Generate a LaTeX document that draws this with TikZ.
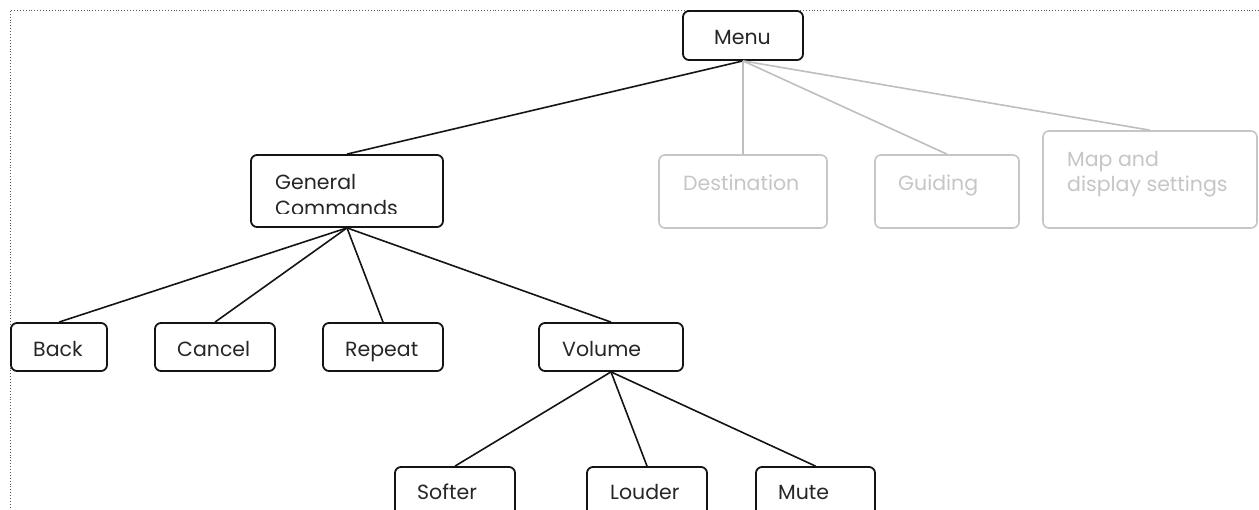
\documentclass[tikz,border=0pt]{standalone}
\usepackage{fontspec}
\setmainfont{Poppins}
\usetikzlibrary{calc}
\definecolor{inkline}{HTML}{141414}
\definecolor{inktext}{HTML}{262626}
\definecolor{faint}{HTML}{C6C6C6}
\definecolor{faintline}{HTML}{BEBEBE}
\definecolor{framedots}{HTML}{555555}
\tikzset{
  item/.style={draw=inkline, line width=1.8pt, rounded corners=6pt, inner sep=0pt, fill=white},
  faded/.style={item, draw=faint, line width=1.6pt},
  lbl/.style={anchor=base west, inner sep=0pt, font=\fontsize{20.5}{25}\selectfont, text=inktext},
  fadedlbl/.style={lbl, text=faint},
  link/.style={draw=inkline, line width=1.6pt},
  fadedlink/.style={draw=faintline, line width=1.6pt},
}
\begin{document}
\begin{tikzpicture}[x=1pt,y=-1pt]
  \useasboundingbox (0,0) rectangle (1259,510);
  \clip (0,0) rectangle (1259,510);

  % page frame (dotted, top and left)
  \draw[framedots, dotted, line width=0.9pt] (1259,10) -- (10,10) -- (10,510);

  % boxes
  \node[item,  minimum width=120pt, minimum height=49pt] (menu)   at (743,35.5)  {};
  \node[item,  minimum width=192pt, minimum height=72pt] (gen)    at (347,191)   {};
  \node[faded, minimum width=168pt, minimum height=73pt] (dest)   at (743,191.5) {};
  \node[faded, minimum width=144pt, minimum height=73pt] (guide)  at (947,191.5) {};
  \node[faded, minimum width=214pt, minimum height=97pt] (map)    at (1150,179.5){};
  \node[item,  minimum width=96pt,  minimum height=48pt] (back)   at (59,347)    {};
  \node[item,  minimum width=120pt, minimum height=48pt] (cancel) at (215,347)   {};
  \node[item,  minimum width=120pt, minimum height=48pt] (repeat) at (383,347)   {};
  \node[item,  minimum width=144pt, minimum height=48pt] (volume) at (611,347)   {};
  \node[item,  minimum width=120pt, minimum height=63pt] (softer) at (455,498.5) {};
  \node[item,  minimum width=120pt, minimum height=63pt] (louder) at (647,498.5) {};
  \node[item,  minimum width=119pt, minimum height=63pt] (mute)   at (815.5,498.5){};

  % connectors
  \draw[link] (menu.south) -- (gen.north);
  \draw[fadedlink] (menu.south) -- (dest.north);
  \draw[fadedlink] (menu.south) -- (guide.north);
  \draw[fadedlink] (menu.south) -- (map.north);
  \draw[link] (gen.south) -- (back.north);
  \draw[link] (gen.south) -- (cancel.north);
  \draw[link] (gen.south) -- (repeat.north);
  \draw[link] (gen.south) -- (volume.north);
  \draw[link] (volume.south) -- (softer.north);
  \draw[link] (volume.south) -- (louder.north);
  \draw[link] (volume.south) -- (mute.north);

  % labels
  \node[lbl] (menu-t) at (714,45) {Menu};
  \node[lbl] (gen-t1) at (275,190) {General};
  \begin{scope}
    \clip (251,155) rectangle (443,213.5);
    \node[lbl] (gen-t2) at (275,215.5) {Commands};
  \end{scope}
  \node[fadedlbl] (dest-t)  at (683,191) {Destination};
  \node[fadedlbl] (guide-t) at (898,191) {Guiding};
  \node[fadedlbl] (map-t1)  at (1067,167) {Map and};
  \node[fadedlbl] (map-t2)  at (1067,192) {display settings};
  \node[lbl] (back-t)   at (33,357)  {Back};
  \node[lbl] (cancel-t) at (177,357) {Cancel};
  \node[lbl] (repeat-t) at (345,357) {Repeat};
  \node[lbl] (volume-t) at (562,357) {Volume};
  \node[lbl] (softer-t) at (417,500) {Softer};
  \node[lbl] (louder-t) at (610,500) {Louder};
  \node[lbl] (mute-t)   at (778,500) {Mute};
\end{tikzpicture}
\end{document}
